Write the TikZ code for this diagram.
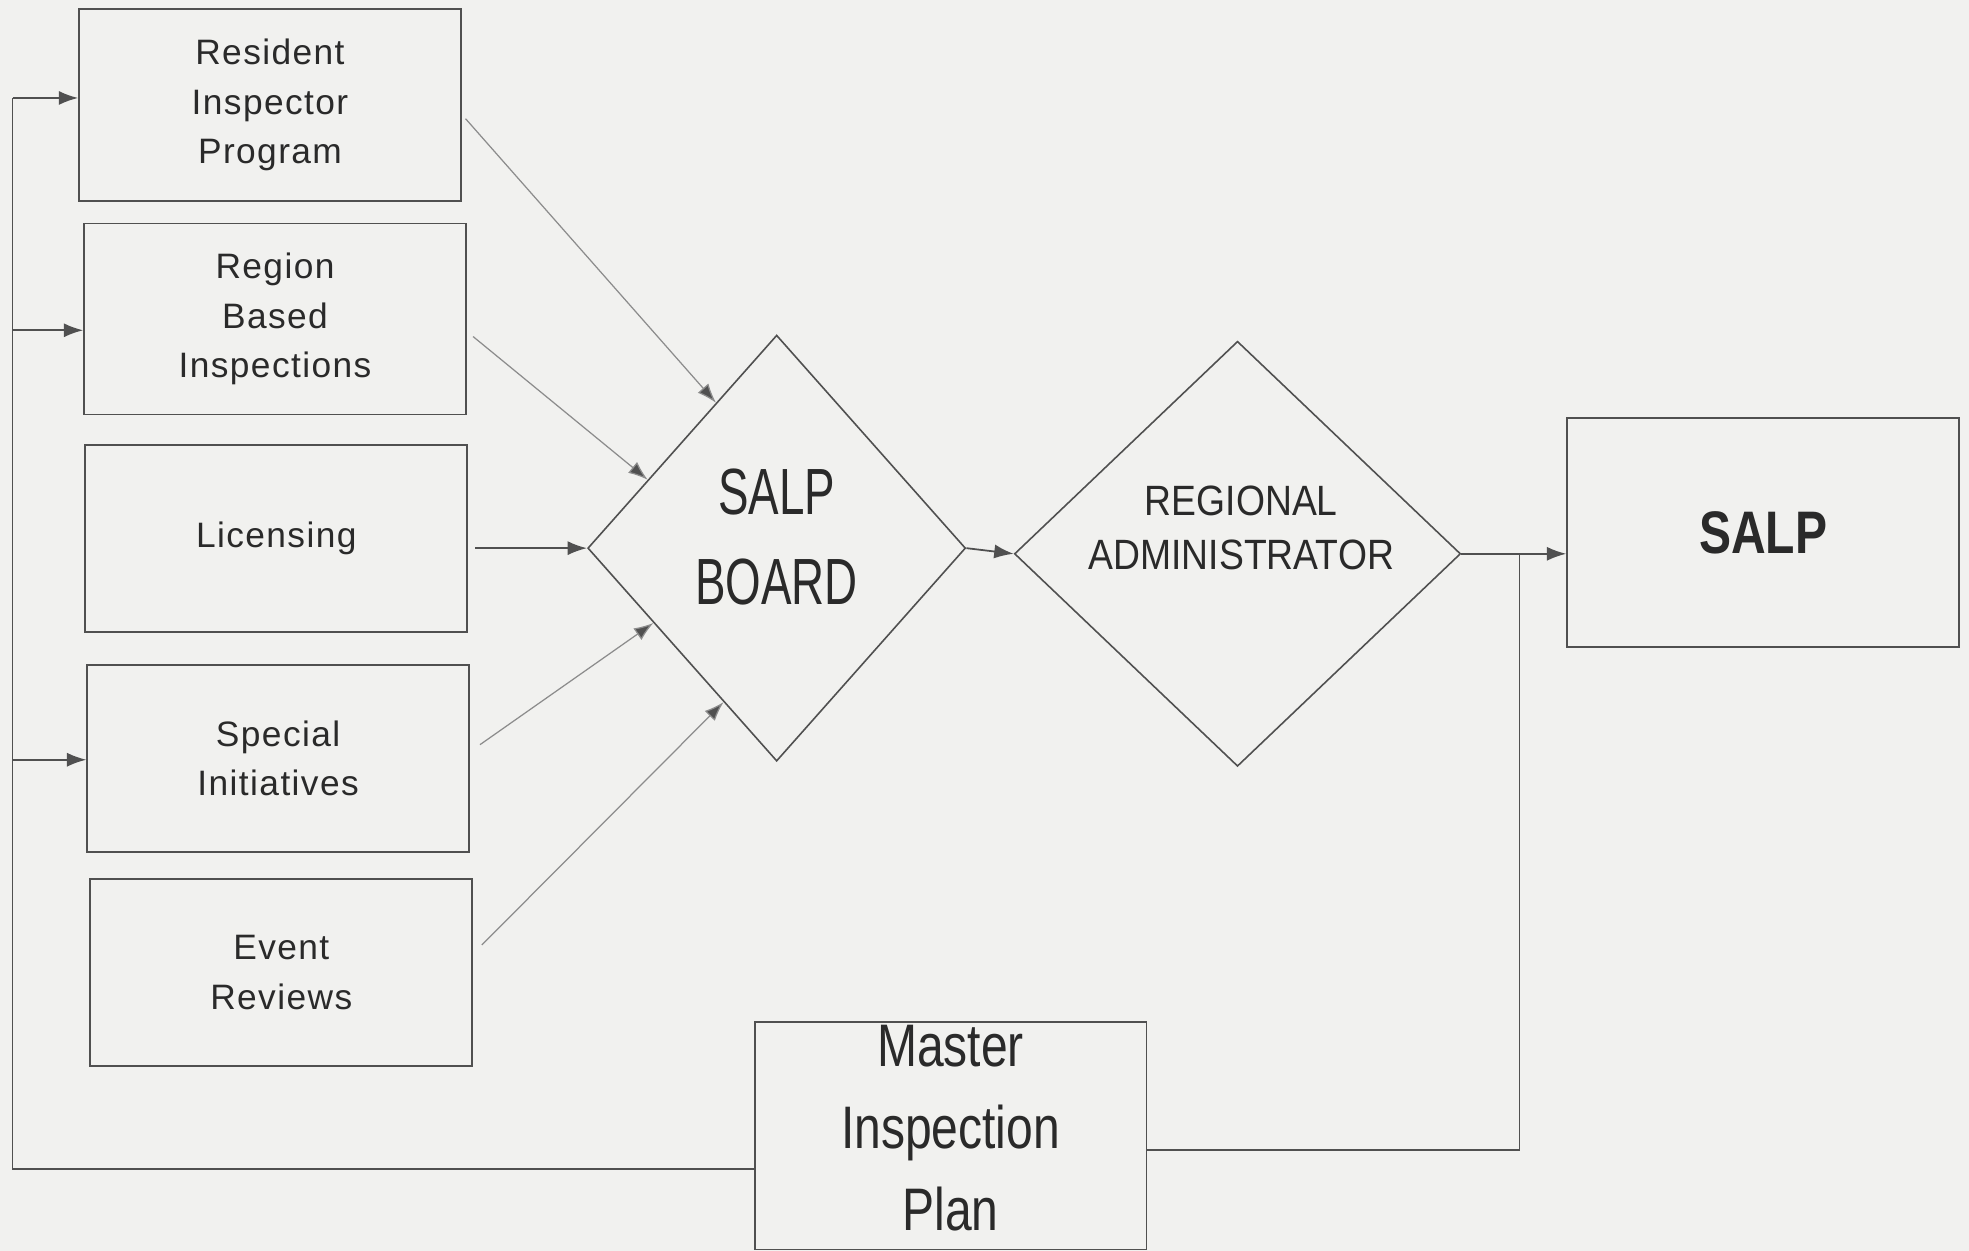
\documentclass[tikz,border=0pt]{standalone}
\usepackage{fontspec}
\setmainfont{Liberation Sans}
\newfontfamily\boxfont[LetterSpace=4]{Liberation Sans}
\newfontfamily\boardfont[FakeStretch=0.7]{Liberation Sans}
\newfontfamily\adminfont[FakeStretch=0.88]{Liberation Sans}
\newfontfamily\planfont[FakeStretch=0.8]{Liberation Sans}
\newfontfamily\salpfont[FakeStretch=0.8]{Liberation Sans}
\usetikzlibrary{shapes.geometric,arrows.meta,calc}

\definecolor{paper}{HTML}{F1F1EF}
\definecolor{ink}{HTML}{505050}
\definecolor{faint}{HTML}{8C8C8C}
\definecolor{txt}{HTML}{2A2A2A}

\begin{document}
\begin{tikzpicture}[x=0.0125cm,y=-0.0125cm,
    box/.style={draw=ink,line width=0.5pt,rectangle,minimum width=3.8cm,
      minimum height=1.86cm,align=center,text=txt,
      font=\boxfont\fontsize{10}{14}\selectfont},
    decision/.style={draw=ink,line width=0.45pt,diamond,inner sep=0pt},
    flow/.style={draw=ink,line width=0.5pt,-{Latex[length=5.5pt,width=4pt]}},
    feed/.style={draw=faint,line width=0.35pt,-{Latex[length=5.5pt,width=4pt,fill=ink]}},
    loopline/.style={draw=ink,line width=0.5pt}]
  \useasboundingbox (0,0) rectangle (1568,996);
  \fill[paper] (0,0) rectangle (1568,996);

  % input boxes
  \node[box,minimum height=1.91cm] (rip) at (215,83.5) {Resident\\Inspector\\Program};
  \node[box,minimum height=1.9cm] (rbi) at (219,254) {Region\\Based\\Inspections};
  \node[box] (lic) at (220,429) {Licensing};
  \node[box] (spi) at (221.5,604) {Special\\Initiatives};
  \node[box] (erv) at (224,774.5) {Event\\Reviews};

  % decisions
  \node[decision,minimum width=3.76cm,minimum height=4.24cm] (board) at (618.5,436.5) {};
  \node[align=center,text=txt,font=\boardfont\fontsize{18.5}{25.3}\selectfont] (boardtxt)
    at ($(board.center)+(0,-9)$) {SALP\\BOARD};
  \node[decision,minimum width=4.44cm,minimum height=4.23cm] (ra) at (985.5,441) {};
  \node[align=center,text=txt,font=\adminfont\fontsize{12}{15.3}\selectfont] (ratxt)
    at ($(ra.center)+(3,-21)$) {REGIONAL\\ADMINISTRATOR};

  % outputs
  \node[draw=ink,line width=0.5pt,minimum width=3.9cm,minimum height=2.275cm,text=txt,
    font=\salpfont\bfseries\fontsize{17}{20}\selectfont] (salp) at (1404,424) {SALP};
  \node[draw=ink,line width=0.5pt,minimum width=3.9cm,minimum height=2.26cm] (mip)
    at (757,904.5) {};
  \node[align=center,text=txt,font=\planfont\fontsize{17}{23.3}\selectfont] (miptxt)
    at ($(mip.center)+(0,-6)$) {Master\\Inspection\\Plan};

  % into the board
  \draw[feed] ($(rip.east)+(3,11)$) -- ($(board.west)!0.68!(board.north)$);
  \draw[feed] ($(rbi.east)+(5,14)$) -- ($(board.west)!0.32!(board.north)$);
  \draw[flow,shorten <=2pt] (lic.east |- board.west) -- (board.west);
  \draw[feed] ($(spi.east)+(8,-11)$) -- ($(board.west)!0.35!(board.south)$);
  \draw[feed] ($(erv.east)+(7,-22)$) -- ($(board.west)!0.72!(board.south)$);

  \draw[flow] (board.east) -- (ra.west);
  \draw[flow] (ra.east) -- (ra.east -| salp.west);

  % plan loops
  \coordinate (bus1) at (10,78);
  \coordinate (bus2) at (10,263);
  \coordinate (bus4) at (10,605);
  \coordinate (busend) at (10,931);
  \draw[loopline] (busend -| mip.west) -- (busend) -- (bus1);
  \draw[flow] (bus1) -- (bus1 -| rip.west);
  \draw[flow] (bus2) -- (bus2 -| rbi.west);
  \draw[flow] (bus4) -- (bus4 -| spi.west);

  \coordinate (loopr) at (1210,916);
  \draw[loopline] (loopr -| mip.east) -- (loopr) -- (loopr |- ra.east);
\end{tikzpicture}
\end{document}
